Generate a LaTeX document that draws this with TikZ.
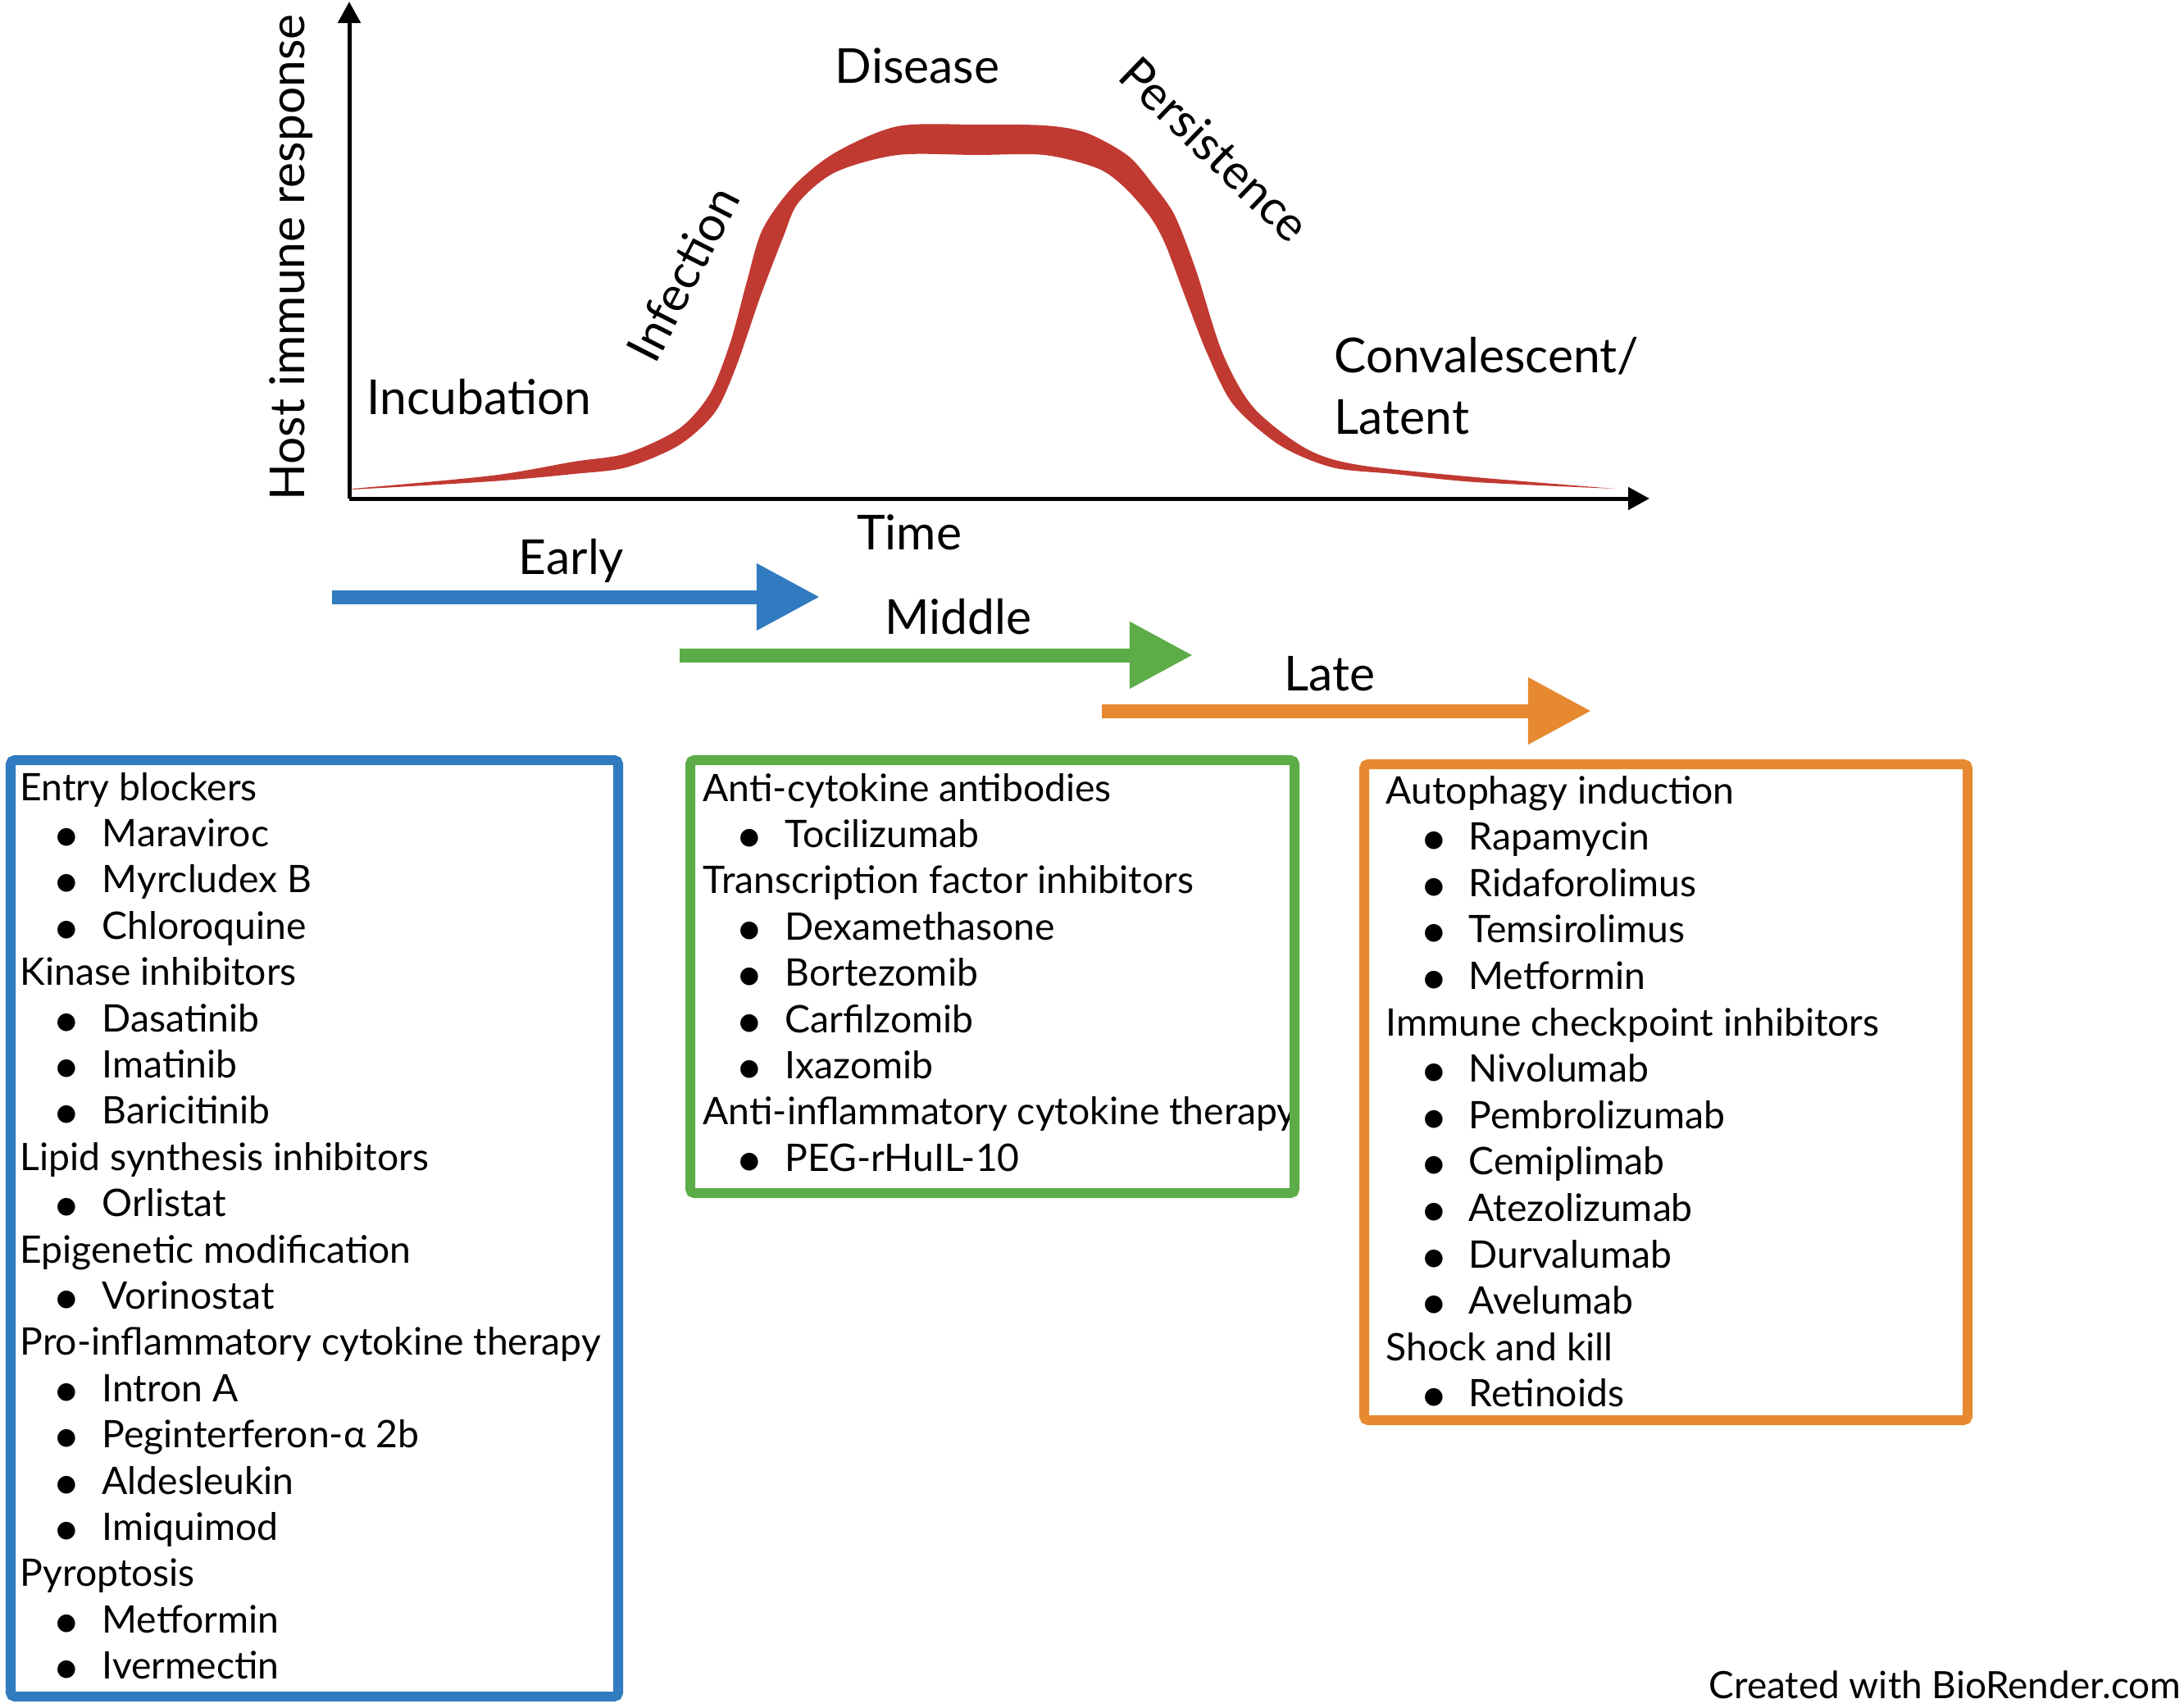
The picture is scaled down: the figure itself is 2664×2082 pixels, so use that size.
\documentclass[tikz,border=0pt]{standalone}
\usepackage{fontspec}
\setmainfont{Lato}
\usetikzlibrary{arrows.meta}

\definecolor{curvered}{RGB}{193,58,50}
\definecolor{earlyblue}{RGB}{49,123,192}
\definecolor{midgreen}{RGB}{92,172,72}
\definecolor{lateorange}{RGB}{230,137,48}

\tikzset{
  lbl/.style={inner sep=0pt, font=\fontsize{16.7pt}{20pt}\selectfont},
  listtext/.style={inner sep=0pt, anchor=base west, font=\fontsize{13.15pt}{16pt}\selectfont},
  listdot/.style={inner sep=0pt, anchor=base, font=\fontsize{16.5pt}{18pt}\selectfont},
  phase/.style={line width=0.17cm, -{Triangle[length=0.77cm, width=0.77cm]}},
  listbox/.style={line width=0.12cm, rounded corners=0.05cm},
}

\begin{document}
\begin{tikzpicture}[>={Triangle[length=0.26cm, width=0.27cm]}, x=0.01cm, y=-0.01cm]
\useasboundingbox (0,0) rectangle (2664,2082);
\pgfmathsetmacro\lsep{56.4}

% axes
\coordinate (O) at (426,608);
\coordinate (ytop) at (426,2);
\coordinate (xend) at (2012,608);
\draw[line width=0.05cm, ->] (O) -- (ytop);
\draw[line width=0.05cm, ->] (O) -- (xend);

% response curve
\fill[curvered] plot[smooth] coordinates {(430,596) (600,580) (700,563) (764,553) (828,523) (866,480) (891,417) (910,347) (930,280) (968,227) (1019,186) (1095,154) (1191,152) (1274,153) (1325,162) (1376,190) (1408,227) (1433,263) (1459,330) (1491,430) (1529,497) (1593,547) (1657,567) (1800,582) (1970,596)}
  -- plot[smooth] coordinates {(1970,596) (1800,588) (1700,578) (1625,570) (1561,543) (1504,493) (1472,430) (1446,363) (1421,297) (1402,263) (1370,227) (1338,205) (1274,189) (1191,189) (1095,189) (1019,210) (974,247) (955,290) (927,363) (898,447) (872,503) (828,543) (764,570) (700,578) (600,587) (430,597)} -- cycle;

% stage labels
\node[lbl, anchor=base, rotate=90] (ylab) at (371,314) {Host immune response};
\node[lbl, anchor=base west] (incub) at (447,505) {Incubation};
\node[lbl, rotate=63] (infect) at (833,334) {Infection};
\node[lbl, anchor=base] (disease) at (1119,102) {Disease};
\node[lbl, rotate=-44] (persist) at (1482,182) {Persistence};
\node[lbl, anchor=base west] (conv) at (1627,454) {Convalescent/};
\node[lbl, anchor=base west] (latent) at (1627,529) {Latent};
\node[lbl, anchor=base] (time) at (1109,670) {Time};

% phase arrows
\coordinate (earlyS) at (405,728);
\coordinate (earlyE) at (1000,728);
\coordinate (midS) at (829,799);
\coordinate (midE) at (1455,799);
\coordinate (lateS) at (1344,867);
\coordinate (lateE) at (1941,867);
\draw[phase, earlyblue] (earlyS) -- (earlyE);
\draw[phase, midgreen] (midS) -- (midE);
\draw[phase, lateorange] (lateS) -- (lateE);
\node[lbl, anchor=base] (early) at (697,700) {Early};
\node[lbl, anchor=base] (middle) at (1169,773) {Middle};
\node[lbl, anchor=base] (late) at (1622,842) {Late};

% early box
\begin{scope}
\clip (19,933) rectangle (748,2068);
\foreach \lv/\txt [count=\i from 0] in {0/Entry blockers, 1/Maraviroc, 1/Myrcludex B, 1/Chloroquine, 0/Kinase inhibitors, 1/Dasatinib, 1/Imatinib, 1/Baricitinib, 0/Lipid synthesis inhibitors, 1/Orlistat, 0/Epigenetic modification, 1/Vorinostat, 0/Pro-inflammatory cytokine therapy, 1/Intron A, 1/Peginterferon-α 2b, 1/Aldesleukin, 1/Imiquimod, 0/Pyroptosis, 1/Metformin, 1/Ivermectin} {
  \node[listtext] (ea\i) at (24 + \lv*100, 976 + \i*\lsep) {\txt};
  \ifnum\lv=1 \node[listdot] (ead\i) at (81, 982 + \i*\lsep) {•}; \fi
}
\end{scope}
\draw[listbox, earlyblue] (13,927) rectangle (754,2069);

% middle box
\begin{scope}
\clip (848,933) rectangle (1573,1449);
\foreach \lv/\txt [count=\i from 0] in {0/Anti-cytokine antibodies, 1/Tocilizumab, 0/Transcription factor inhibitors, 1/Dexamethasone, 1/Bortezomib, 1/Carfilzomib, 1/Ixazomib, 0/Anti-inflammatory cytokine therapy, 1/PEG-rHuIL-10} {
  \node[listtext] (mi\i) at (857 + \lv*100, 977 + \i*\lsep) {\txt};
  \ifnum\lv=1 \node[listdot] (mid\i) at (914, 983 + \i*\lsep) {•}; \fi
}
\end{scope}
\draw[listbox, midgreen] (842,927) rectangle (1579,1455);

% late box
\begin{scope}
\clip (1670,938) rectangle (2394,1726);
\foreach \lv/\txt [count=\i from 0] in {0/Autophagy induction, 1/Rapamycin, 1/Ridaforolimus, 1/Temsirolimus, 1/Metformin, 0/Immune checkpoint inhibitors, 1/Nivolumab, 1/Pembrolizumab, 1/Cemiplimab, 1/Atezolizumab, 1/Durvalumab, 1/Avelumab, 0/Shock and kill, 1/Retinoids} {
  \node[listtext] (la\i) at (1690 + \lv*101, 980 + \i*56.6) {\txt};
  \ifnum\lv=1 \node[listdot] (lad\i) at (1749, 986 + \i*56.6) {•}; \fi
}
\end{scope}
\draw[listbox, lateorange] (1664,932) rectangle (2400,1732);

\node[inner sep=0pt, anchor=base east, font=\fontsize{13.05pt}{16pt}\selectfont] (credit) at (2661,2071) {Created with BioRender.com};
\end{tikzpicture}
\end{document}
